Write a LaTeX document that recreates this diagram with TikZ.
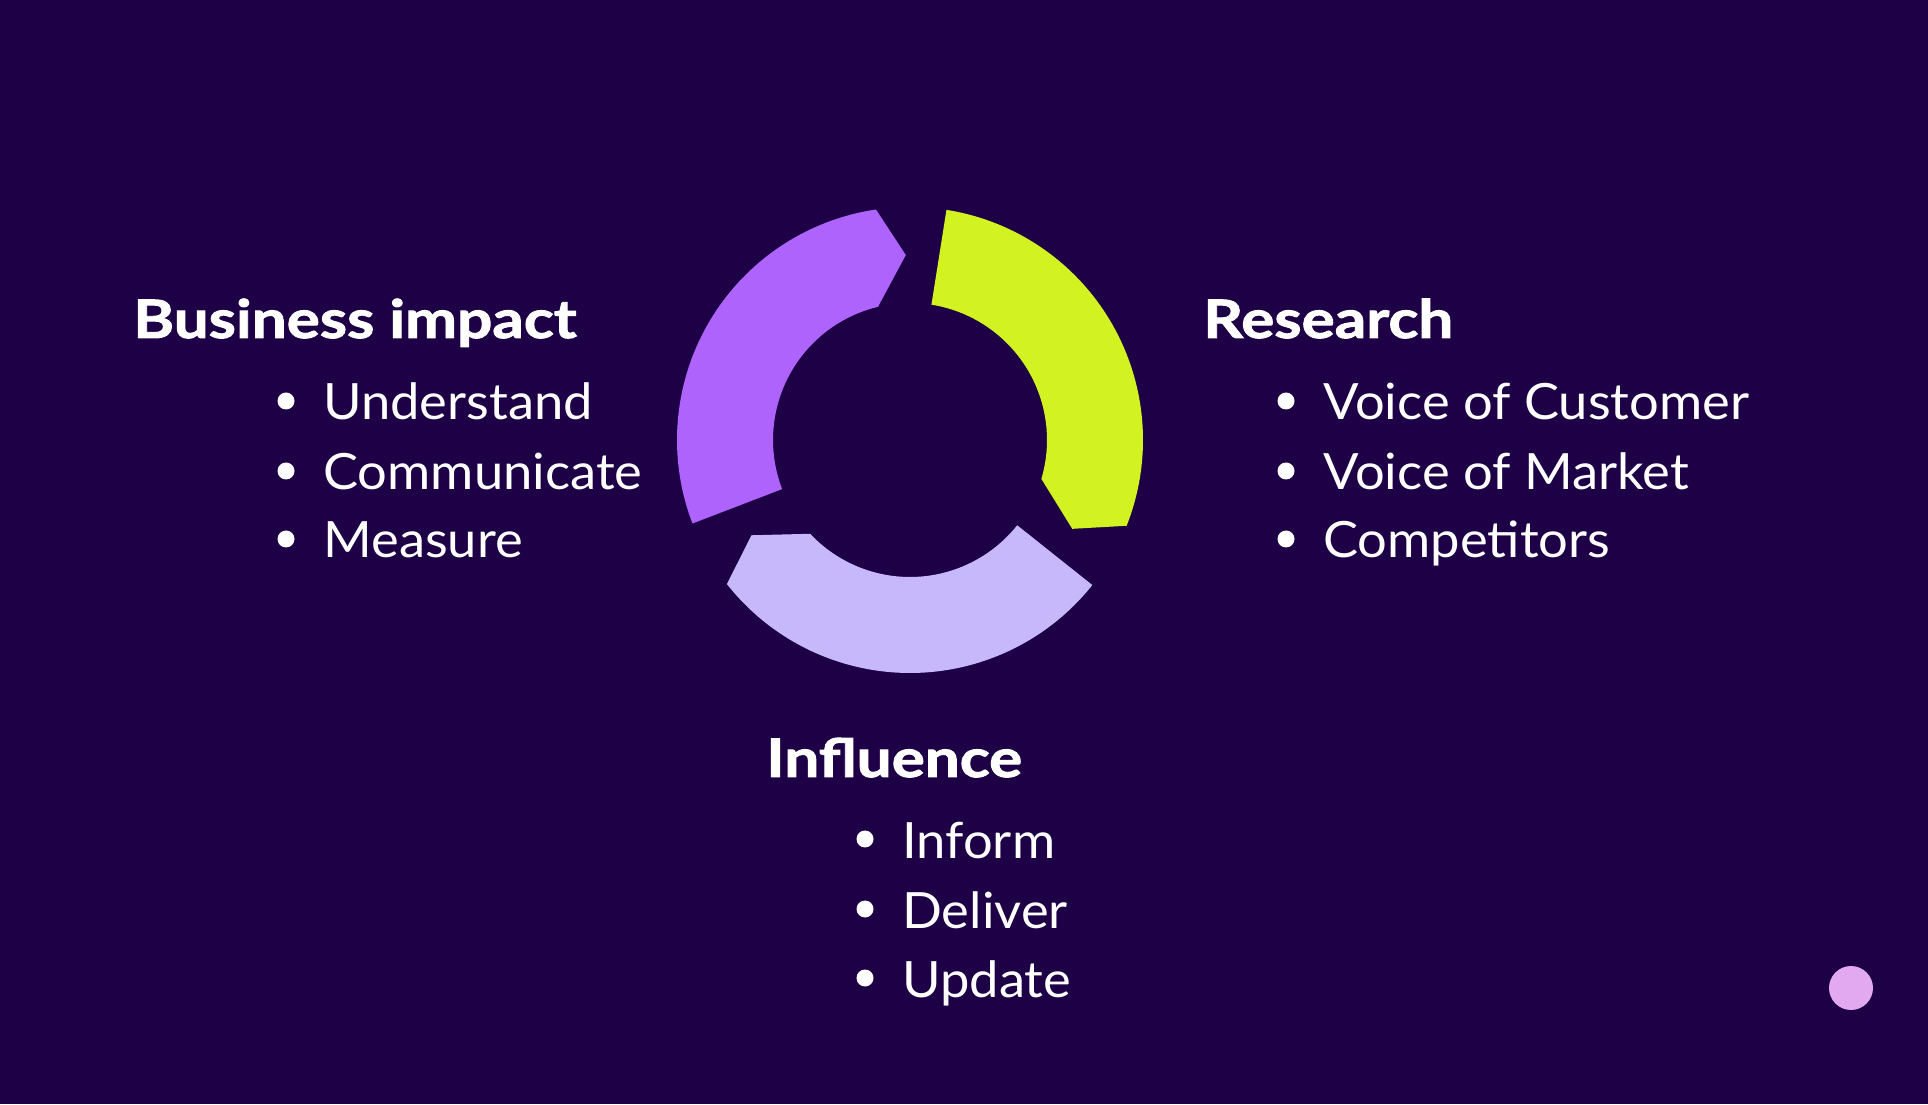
\documentclass[tikz,border=0pt]{standalone}
\usepackage{fontspec}
\setmainfont{Lato}[FakeStretch=1.05]
\newfontfamily\headfont{Lato}[FakeStretch=1.17,BoldFeatures={FakeBold=1.8}]
\usepackage{tikz}
\usetikzlibrary{calc}
\definecolor{bgnavy}{HTML}{1D0046}
\definecolor{ringviolet}{HTML}{AE63FD}
\definecolor{ringlime}{HTML}{D3F221}
\definecolor{ringlilac}{HTML}{C7B8FC}
\definecolor{dotpink}{HTML}{E2A8F0}
\tikzset{
  heading/.style={anchor=base west,text=white,inner sep=0pt,
    font=\headfont\bfseries\fontsize{26.5}{32}\selectfont},
  item/.style={anchor=base west,text=white,inner sep=0pt,
    font=\fontsize{25}{30}\selectfont},
}
\newcommand{\itemdot}[1]{\fill[white] ($(#1.base west)+(-37,19)$) circle (8.5);}

\begin{document}
\begin{tikzpicture}[x=0.5pt,y=0.5pt]
  % background
  \useasboundingbox (0,0) rectangle (1928,1104);
  \fill[bgnavy] (0,0) rectangle (1928,1104);
  % ring of three arrow segments
  \begin{scope}[shift={(910,664)}]
    \fill[ringviolet] (201:233) arc[start angle=201,end angle=98.4,radius=233]
      -- (91.3:185) -- (103.5:137) arc[start angle=103.5,end angle=201,radius=137] -- cycle;
    \fill[ringlime] (81:233) arc[start angle=81,end angle=-21.6,radius=233]
      -- (-28.7:185) -- (-16.5:137) arc[start angle=-16.5,end angle=81,radius=137] -- cycle;
    \fill[ringlilac] (-38.5:233) arc[start angle=-38.5,end angle=-141.8,radius=233]
      -- (-149:185) -- (-136.8:137) arc[start angle=-136.8,end angle=-38.5,radius=137] -- cycle;
  \end{scope}
  % Business impact
  \node[heading] (bizhead) at (133,766) {Business impact};
  \node[item] (biz1) at (323,684) {Understand};
  \node[item] (biz2) at (323,614) {Communicate};
  \node[item] (biz3) at (323,546) {Measure};
  \itemdot{biz1} \itemdot{biz2} \itemdot{biz3}
  % Research
  \node[heading] (reshead) at (1203,766) {Research};
  \node[item] (res1) at (1323,684) {Voice of Customer};
  \node[item] (res2) at (1323,614) {Voice of Market};
  \node[item] (res3) at (1323,546) {Competitors};
  \itemdot{res1} \itemdot{res2} \itemdot{res3}
  % Influence
  \node[heading] (inflhead) at (766,327) {Influence};
  \node[item] (infl1) at (902,246) {Inform};
  \node[item] (infl2) at (902,176) {Deliver};
  \node[item] (infl3) at (902,107) {Update};
  \itemdot{infl1} \itemdot{infl2} \itemdot{infl3}
  % corner dot
  \fill[dotpink] (1851,116) circle (22);
\end{tikzpicture}
\end{document}
